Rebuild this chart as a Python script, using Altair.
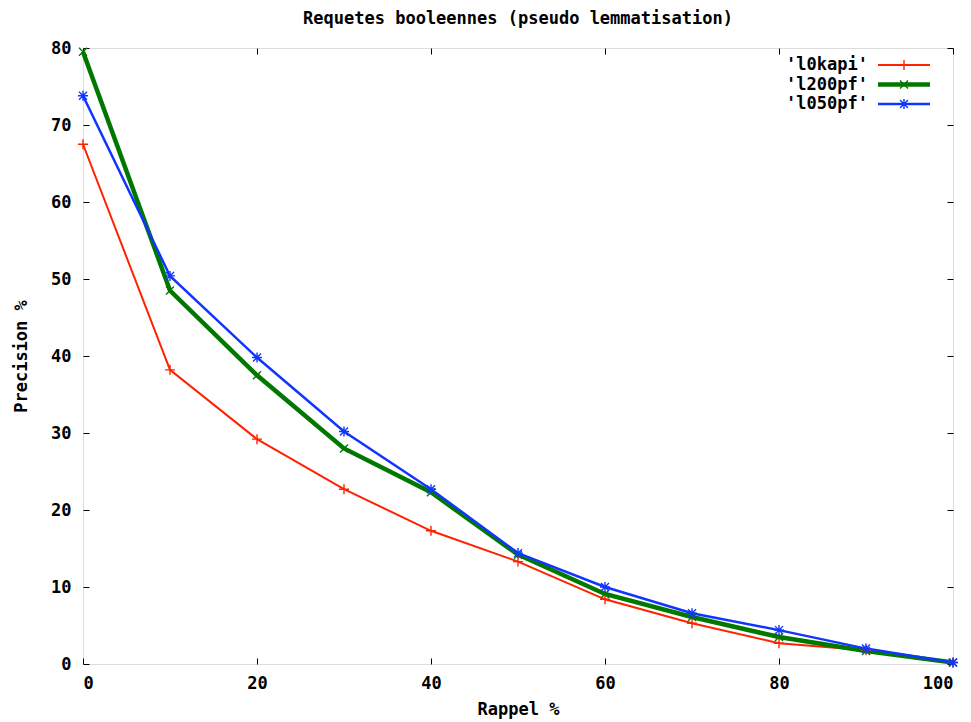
import altair as alt
import pandas as pd

# ---------------- data ----------------
recall = [0, 10, 20, 30, 40, 50, 60, 70, 80, 90, 100]
series_names = ["'l0kapi'", "'l200pf'", "'l050pf'"]
l0kapi = [67.5, 38.2, 29.2, 22.7, 17.3, 13.3, 8.4, 5.3, 2.7, 1.8, 0.2]
l200pf = [79.5, 48.5, 37.5, 28.0, 22.3, 14.2, 9.1, 6.1, 3.5, 1.7, 0.2]
l050pf = [73.8, 50.4, 39.8, 30.2, 22.7, 14.4, 10.0, 6.6, 4.4, 2.0, 0.2]
x_ticks = [0, 20, 40, 60, 80, 100]
y_ticks = [0, 10, 20, 30, 40, 50, 60, 70, 80]

rows = []
for name, vals in zip(series_names, [l0kapi, l200pf, l050pf]):
    for r, p in zip(recall, vals):
        rows.append({"recall": r, "precision": p, "series": name})
df = pd.DataFrame(rows)
legend_df = pd.DataFrame({"series": series_names, "idx": list(range(len(series_names)))})

# ---------------- style ----------------
colors = ["#ff2200", "#007800", "#1035ff"]
widths = [2, 4.5, 2.5]
PLUS = "M-1,0L1,0M0,-1L0,1"
CROSS = "M-0.8,-0.8L0.8,0.8M-0.8,0.8L0.8,-0.8"
STAR = PLUS + CROSS
markers = [PLUS, CROSS, STAR]

FONT = "DejaVu Sans Mono"
FS = 17

xscale = alt.Scale(domain=[0, 100], nice=False, zero=False)
yscale = alt.Scale(domain=[0, 80], nice=False, zero=False)
color_scale = alt.Scale(domain=series_names, range=colors)
width_scale = alt.Scale(type="ordinal", domain=series_names, range=widths)
shape_scale = alt.Scale(domain=series_names, range=markers)

label_axis_common = dict(
    labelFont=FONT, labelFontWeight="bold", labelFontSize=FS, labelColor="black",
    titleFont=FONT, titleFontWeight="bold", titleFontSize=FS, titleColor="black",
    domain=False, ticks=False, tickSize=0, grid=False, format="d",
)

tick_axis_common = dict(
    labels=False, domain=False, ticks=True, tickSize=6, tickColor="black",
    tickWidth=1, grid=False, title=None, offset=-6,
)

lines = alt.Chart(df).mark_line().encode(
    x=alt.X("recall:Q", scale=xscale,
            axis=alt.Axis(orient="bottom", values=x_ticks, title="Rappel %",
                          labelPadding=11, titlePadding=10, **label_axis_common)),
    y=alt.Y("precision:Q", scale=yscale,
            axis=alt.Axis(orient="left", values=y_ticks, title="Precision %",
                          labelPadding=12, titlePadding=20, **label_axis_common)),
    color=alt.Color("series:N", scale=color_scale, legend=None),
    strokeWidth=alt.StrokeWidth("series:N", scale=width_scale, legend=None),
)

points = alt.Chart(df).mark_point(size=100, filled=False, strokeWidth=1.4, opacity=1).encode(
    x=alt.X("recall:Q", scale=xscale,
            axis=alt.Axis(orient="bottom", values=x_ticks, **tick_axis_common)),
    y=alt.Y("precision:Q", scale=yscale,
            axis=alt.Axis(orient="left", values=y_ticks, **tick_axis_common)),
    color=alt.Color("series:N", scale=color_scale, legend=None),
    shape=alt.Shape("series:N", scale=shape_scale, legend=None),
)

mirror = alt.Chart(df).mark_point(opacity=0).encode(
    x=alt.X("recall:Q", scale=xscale,
            axis=alt.Axis(orient="top", values=x_ticks, **tick_axis_common)),
    y=alt.Y("precision:Q", scale=yscale,
            axis=alt.Axis(orient="right", values=y_ticks, **tick_axis_common)),
)

# ---------------- key (gnuplot style: label then sample) ----------------
key_base = alt.Chart(legend_df).transform_calculate(ky="17 + datum.idx * 19.5")
key_y = alt.Y("ky:Q", scale=None, axis=None)

key_text = key_base.mark_text(
    align="right", baseline="middle", font=FONT, fontWeight="bold",
    fontSize=FS, color="black",
).encode(x=alt.value(785), y=key_y, text="series:N")

key_line = key_base.mark_rule().encode(
    x=alt.value(795), x2=alt.value(847), y=key_y,
    color=alt.Color("series:N", scale=color_scale, legend=None),
    strokeWidth=alt.StrokeWidth("series:N", scale=width_scale, legend=None),
)

key_mark = key_base.mark_point(size=100, filled=False, strokeWidth=1.4, opacity=1).encode(
    x=alt.value(821), y=key_y,
    color=alt.Color("series:N", scale=color_scale, legend=None),
    shape=alt.Shape("series:N", scale=shape_scale, legend=None),
)

chart = (
    alt.layer(lines, points, mirror, key_text, key_line, key_mark)
    .resolve_axis(x="independent", y="independent")
    .properties(
        width=870,
        height=616,
        autosize=alt.AutoSizeParams(type="none"),
        padding={"left": 75, "top": 40, "right": 10, "bottom": 56},
        title=alt.TitleParams(
            "Requetes booleennes (pseudo lemmatisation)",
            font=FONT, fontWeight="bold", fontSize=FS, color="black",
            anchor="middle", offset=11,
        ),
    )
    .configure_view(stroke="black", strokeWidth=1.2)
    .configure(background="white")
)

chart.save("out.html", embed_options={"renderer": "svg", "actions": False})
